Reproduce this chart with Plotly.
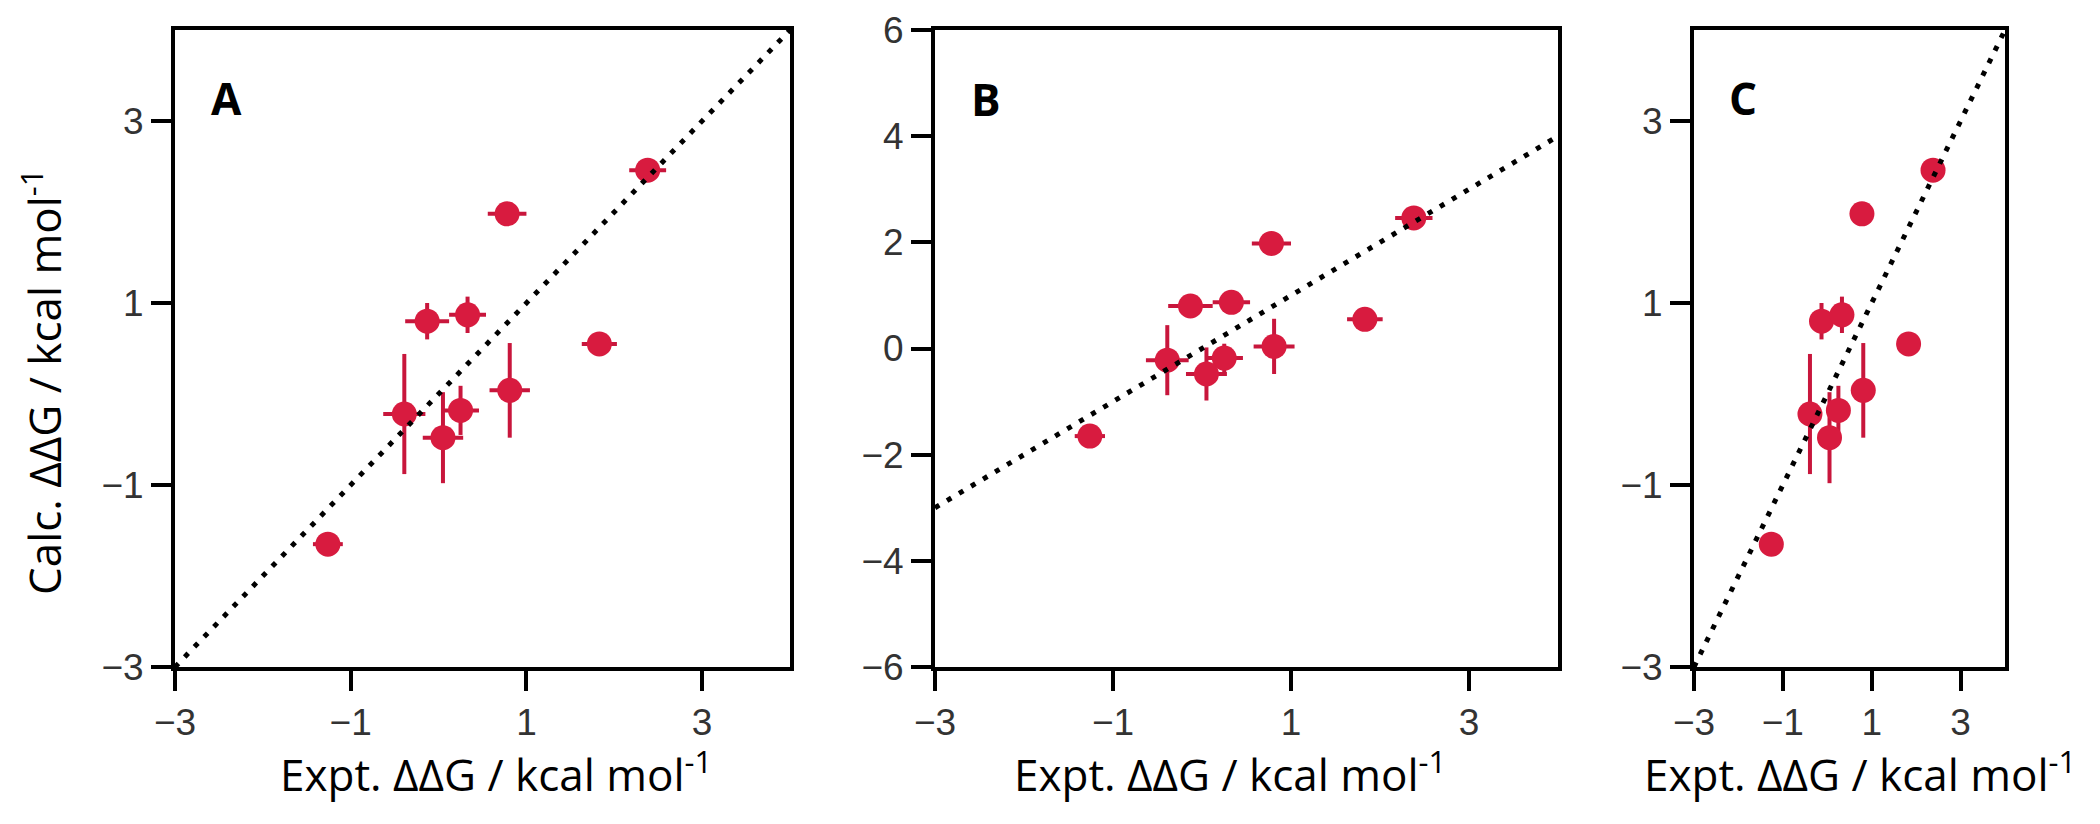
import plotly.graph_objects as go

# Data (same points appear in all three panels)
expt = [-1.26, 2.38, 0.78, -0.13, 0.33, 1.83, 0.81, -0.39, 0.25, 0.05]
calc = [-1.65, 2.46, 1.98, 0.80, 0.87, 0.55, 0.04, -0.22, -0.18, -0.48]
expt_err = [0.17, 0.21, 0.22, 0.25, 0.21, 0.20, 0.23, 0.24, 0.21, 0.23]
calc_err = [0.05, 0.05, 0.05, 0.20, 0.20, 0.05, 0.52, 0.66, 0.27, 0.50]

diag_x = [-3, 4]
diag_y = [-3, 4]

panel_labels = ["A", "B", "C"]
x_ticks = [-3, -1, 1, 3]
y_ticks_ac = [-3, -1, 1, 3]
y_ticks_b = [-6, -4, -2, 0, 2, 4, 6]
x_range = [-3, 4]
y_range_ac = [-3, 4]
y_range_b = [-6, 6]

# page body has an 8px margin; figure sized so the page does not overflow
OFF = 8
W, H = 2100 - 2 * OFF, 824 - 2 * OFF


def px(x):
    return (x - OFF) / W


def py(y):
    return 1 - (y - OFF) / H


MARK = "#D81B3F"
ERR = "#C8163C"

# page-pixel boxes of panels (left, right, top, bottom)
boxes = [(175, 790, 30, 667), (935, 1558, 30, 667), (1694, 2005, 30, 667)]

fig = go.Figure()
for i in range(3):
    xa = "x" if i == 0 else f"x{i+1}"
    ya = "y" if i == 0 else f"y{i+1}"
    fig.add_trace(go.Scatter(
        x=expt, y=calc, mode="markers", xaxis=xa, yaxis=ya,
        marker=dict(color=MARK, size=25, line=dict(width=0)),
        error_x=dict(type="data", array=expt_err, color=ERR, thickness=4, width=0),
        error_y=dict(type="data", array=calc_err, color=ERR, thickness=4, width=0),
        showlegend=False))
    fig.add_trace(go.Scatter(
        x=diag_x, y=diag_y, mode="lines", xaxis=xa, yaxis=ya,
        line=dict(color="black", width=5, dash="5px,9px"),
        showlegend=False))

tickfont = dict(family="Liberation Sans, Arial", size=37, color="#333333")
layout = {}
for i, (l, r, t, b) in enumerate(boxes):
    sx = "" if i == 0 else str(i + 1)
    xd = [px(l), px(r)]
    yd = [py(b), py(t)]
    layout[f"xaxis{sx}"] = dict(
        domain=xd, range=x_range, tickvals=x_ticks, ticks="outside", ticklen=20,
        tickwidth=4, tickcolor="black", showline=True, linewidth=4, linecolor="black",
        mirror=True, showgrid=False, zeroline=False, tickfont=tickfont,
        automargin=False, anchor=f"y{sx}")
    layout[f"yaxis{sx}"] = dict(
        domain=yd, range=(y_range_b if i == 1 else y_range_ac),
        tickvals=(y_ticks_b if i == 1 else y_ticks_ac), ticks="outside", ticklen=20,
        tickwidth=4, tickcolor="black", showline=True, linewidth=4, linecolor="black",
        mirror=True, showgrid=False, zeroline=False, tickfont=tickfont,
        automargin=False, anchor=f"x{sx}")

title_font = dict(family="Open Sans", size=44, color="black")
annotations = []
x_title_centers = [496, 1230, 1860]
for cx in x_title_centers:
    annotations.append(dict(
        text="Expt. ΔΔG / kcal mol<sup>-1</sup>", x=px(cx), y=py(772),
        xref="paper", yref="paper", showarrow=False, xanchor="center",
        yanchor="middle", font=title_font))
annotations.append(dict(
    text="Calc. ΔΔG / kcal mol<sup>-1</sup>", x=px(42), y=py(382),
    xref="paper", yref="paper", showarrow=False, textangle=-90,
    xanchor="center", yanchor="middle", font=title_font))
label_pos = [(226, 98), (986, 99), (1743, 98)]
for lab, (lx, ly) in zip(panel_labels, label_pos):
    annotations.append(dict(
        text=f"<b>{lab}</b>", x=px(lx), y=py(ly), xref="paper", yref="paper",
        showarrow=False, xanchor="center", yanchor="middle",
        font=dict(family="Open Sans", size=44, color="black")))

fig.update_layout(
    width=W, height=H, margin=dict(l=0, r=0, t=0, b=0, autoexpand=False),
    paper_bgcolor="white", plot_bgcolor="white",
    annotations=annotations, **layout)

fig.write_html("out.html")
